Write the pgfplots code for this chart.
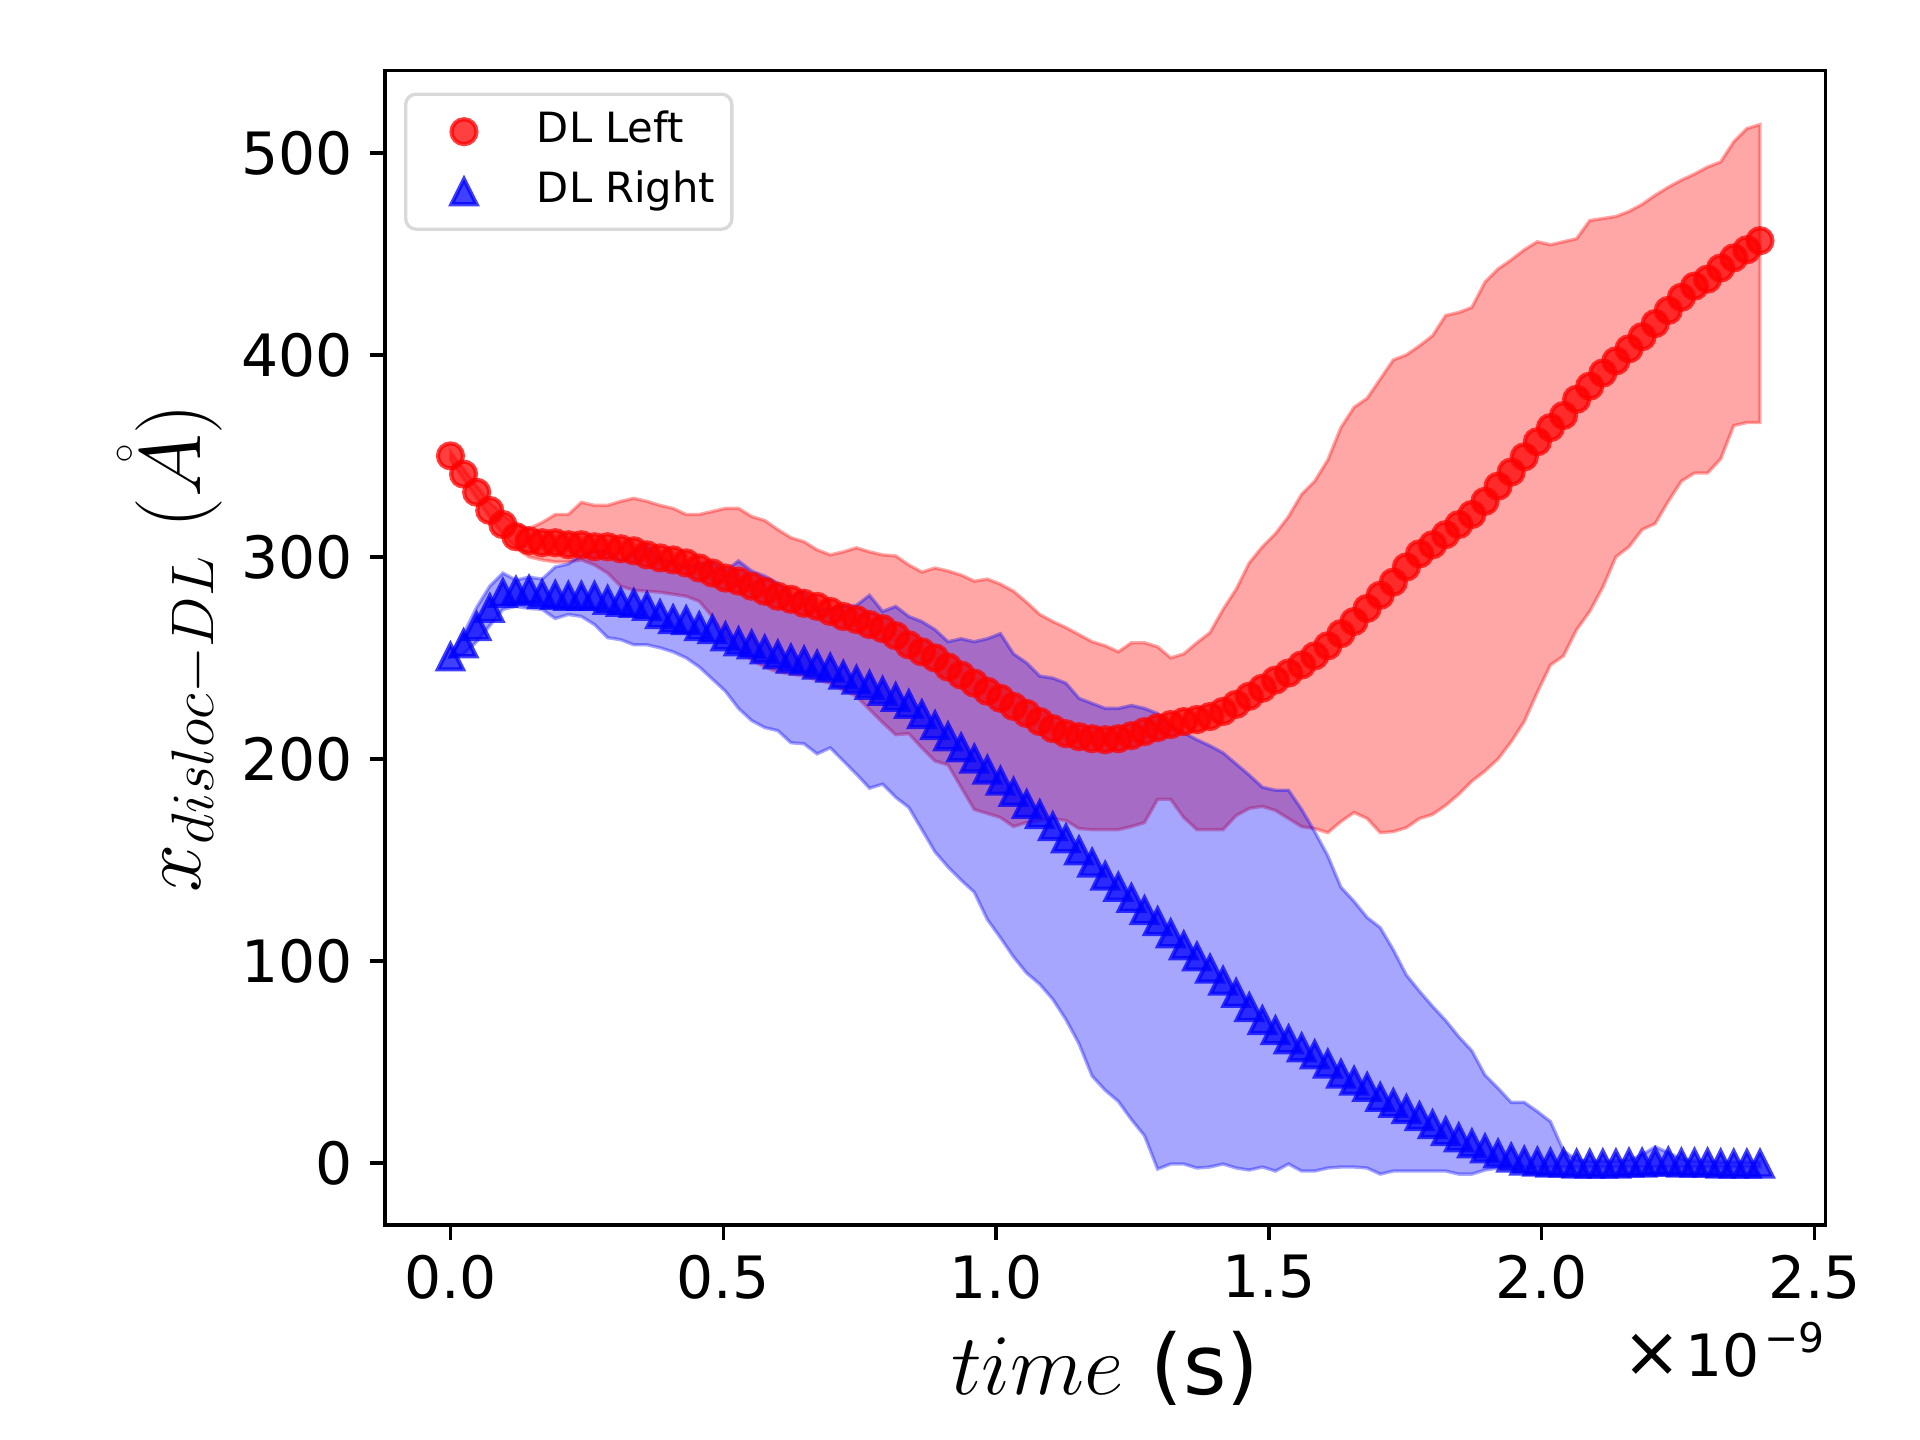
\documentclass[border=0pt]{standalone}
\usepackage{fontspec}
\setmainfont{DejaVu Sans}
\usepackage{pgfplots}
\usepackage{pgfplotstable}
\pgfplotsset{compat=1.18}

\pgfdeclareplotmark{mpltri}{%
  \pgfpathmoveto{\pgfqpoint{0pt}{\pgfplotmarksize}}%
  \pgfpathlineto{\pgfqpoint{-\pgfplotmarksize}{-\pgfplotmarksize}}%
  \pgfpathlineto{\pgfqpoint{\pgfplotmarksize}{-\pgfplotmarksize}}%
  \pgfpathclose
  \pgfusepathqfillstroke
}

\pgfplotsset{
  mkleg/.style={legend image code/.code={\path[draw=none,fill=none] (-10pt,-4pt) rectangle (17.5pt,4pt); \draw[sharp corners,##1] plot coordinates {(0pt,0pt)};}},
}

% mean of DL Left
\pgfplotstableread{
x y
0 350
0.024 341
0.048 332
0.072 323
0.096 316
0.12 310
0.144 308
0.168 307
0.192 307
0.216 306
0.24 306
0.264 305
0.288 305
0.312 304
0.336 303
0.36 301
0.384 299.5
0.408 298.5
0.432 297
0.456 294.5
0.48 292
0.504 289.5
0.528 288
0.552 285.5
0.576 283
0.6 280.5
0.624 279
0.648 277
0.672 275.5
0.696 273
0.72 270.5
0.744 269
0.768 266.5
0.792 264.5
0.816 261
0.84 256.5
0.864 253
0.888 250
0.912 245.5
0.936 241.5
0.96 237.5
0.984 233.5
1.008 230
1.032 226
1.056 222.5
1.08 218.5
1.104 215
1.128 212.5
1.152 211
1.176 210
1.2 209.5
1.224 210
1.248 211.5
1.272 213.5
1.296 215.5
1.32 217
1.344 218.5
1.368 219.5
1.392 221
1.416 223.5
1.44 227
1.464 231
1.488 235
1.512 239
1.536 242.5
1.56 246.5
1.584 251
1.608 256
1.632 262
1.656 268
1.68 274.5
1.704 281
1.728 287.5
1.752 295
1.776 301.5
1.8 306
1.824 311
1.848 316
1.872 321
1.896 327.5
1.92 335
1.944 342
1.968 349.5
1.992 357
2.016 364
2.04 370
2.064 378
2.088 384.5
2.112 391
2.136 397
2.16 403
2.184 409
2.208 415.5
2.232 422
2.256 428.5
2.28 434
2.304 437.5
2.328 443
2.352 448
2.376 452
2.4 456.5
}\redmean

% band of DL Left: upper edge forward, lower edge backward
\pgfplotstableread{
x y
0 352
0.024 343.5
0.048 335
0.072 327
0.096 321
0.12 316
0.144 314
0.168 317
0.192 321
0.216 321
0.24 327
0.264 325.5
0.288 325.5
0.312 327.5
0.336 329
0.36 327.5
0.384 325.5
0.408 324
0.432 321
0.456 321
0.48 322.5
0.504 324
0.528 324
0.552 320
0.576 318
0.6 313.5
0.624 309.5
0.648 307.5
0.672 303.5
0.696 301
0.72 302.5
0.744 304.5
0.768 302.5
0.792 301
0.816 300.5
0.84 296
0.864 292.5
0.888 294.5
0.912 293
0.936 291
0.96 288
0.984 289
1.008 286.5
1.032 283
1.056 277.5
1.08 271.5
1.104 268
1.128 265
1.152 261.5
1.176 258
1.2 256
1.224 253
1.248 257.5
1.272 257.5
1.296 255.5
1.32 250
1.344 252
1.368 257.5
1.392 262.5
1.416 274
1.44 284
1.464 297
1.488 305
1.512 311.5
1.536 320
1.56 331
1.584 337.5
1.608 348
1.632 364
1.656 374
1.68 378.5
1.704 388
1.728 397.5
1.752 400
1.776 404.5
1.8 409.5
1.824 419.5
1.848 421
1.872 423.5
1.896 436
1.92 442.5
1.944 447
1.968 452
1.992 456
2.016 454.5
2.04 456
2.064 457.5
2.088 466.5
2.112 467.5
2.136 468.5
2.16 471
2.184 474.5
2.208 479
2.232 483
2.256 486.5
2.28 489.5
2.304 493
2.328 495.5
2.352 505.5
2.376 512
2.4 514
2.4 366.5
2.376 366.5
2.352 365
2.328 348.5
2.304 341.5
2.28 341.5
2.256 337.5
2.232 327.5
2.208 316.5
2.184 313.5
2.16 305
2.136 300
2.112 285
2.088 273
2.064 264
2.04 251
2.016 246.5
1.992 233
1.968 218.5
1.944 208.5
1.92 200
1.896 194
1.872 189
1.848 182.5
1.824 177
1.8 172.5
1.776 170.5
1.752 166
1.728 164
1.704 163.5
1.68 170.5
1.656 173.5
1.632 169
1.608 163.5
1.584 165.5
1.56 166.5
1.536 170.5
1.512 174.5
1.488 176.5
1.464 175.5
1.44 172
1.416 165
1.392 165
1.368 165
1.344 171
1.32 180
1.296 180
1.272 168.5
1.248 166.5
1.224 165
1.2 165
1.176 165
1.152 165.5
1.128 169.5
1.104 170.5
1.08 169.5
1.056 168.5
1.032 166.5
1.008 171
0.984 173
0.96 175
0.936 186
0.912 197
0.888 199
0.864 205.5
0.84 212.5
0.816 212
0.792 218
0.768 224.5
0.744 231
0.72 234
0.696 237.5
0.672 239
0.648 241
0.624 242
0.6 243
0.576 245.5
0.552 249
0.528 254
0.504 260.5
0.48 270.5
0.456 278
0.432 280.5
0.408 281.5
0.384 282.5
0.36 283
0.336 283.5
0.312 285.5
0.288 292
0.264 296
0.24 298.5
0.216 297.5
0.192 297.5
0.168 298.5
0.144 300
0.12 304.5
0.096 311
0.072 319.5
0.048 329
0.024 338.5
0 348
}\redband

% mean of DL Right
\pgfplotstableread{
x y
0 250.5
0.024 257
0.048 265.5
0.072 274.5
0.096 282
0.12 283
0.144 283.5
0.168 281.5
0.192 281
0.216 280.5
0.24 280.5
0.264 280.5
0.288 278.5
0.312 277.5
0.336 277
0.36 275.5
0.384 271.5
0.408 269
0.432 268.5
0.456 265.5
0.48 264
0.504 260.5
0.528 258
0.552 256.5
0.576 254
0.6 251.5
0.624 249.5
0.648 248.5
0.672 246.5
0.696 245
0.72 241.5
0.744 239
0.768 236.5
0.792 233.5
0.816 230.5
0.84 227
0.864 222
0.888 216.5
0.912 211
0.936 205.5
0.96 200
0.984 194.5
1.008 189
1.032 183.5
1.056 177.5
1.08 172.5
1.104 166.5
1.128 160.5
1.152 154.5
1.176 148.5
1.2 142
1.224 136.5
1.248 131
1.272 125
1.296 119.5
1.32 113.5
1.344 107.5
1.368 102
1.392 96
1.416 90
1.44 84
1.464 77
1.488 70.5
1.512 65.5
1.536 61
1.56 57
1.584 53.5
1.608 49
1.632 44
1.656 40.5
1.68 37.5
1.704 32.5
1.728 29.5
1.752 26.5
1.776 23
1.8 19
1.824 15.5
1.848 12.5
1.872 9.5
1.896 7
1.92 4.5
1.944 2.5
1.968 1
1.992 0.5
2.016 0
2.04 0
2.064 -0.5
2.088 -0.5
2.112 -0.5
2.136 -0.5
2.16 0
2.184 0
2.208 0.5
2.232 0.5
2.256 0
2.28 0
2.304 0
2.328 -0.5
2.352 -0.5
2.376 -0.5
2.4 -0.5
}\bluemean

% band of DL Right: upper edge forward, lower edge backward
\pgfplotstableread{
x y
0 250.5
0.024 262
0.048 275
0.072 285.5
0.096 292
0.12 288.5
0.144 290
0.168 289
0.192 295
0.216 296.5
0.24 301
0.264 303
0.288 303
0.312 298.5
0.336 302.5
0.36 306
0.384 298.5
0.408 298
0.432 295
0.456 297
0.48 297.5
0.504 293
0.528 298
0.552 293
0.576 290.5
0.6 287
0.624 280.5
0.648 283
0.672 273.5
0.696 274.5
0.72 275.5
0.744 276
0.768 281
0.792 273
0.816 275.5
0.84 270.5
0.864 268
0.888 264
0.912 258
0.936 259.5
0.96 258
0.984 259.5
1.008 262
1.032 252
1.056 247.5
1.08 241
1.104 240
1.128 237.5
1.152 230
1.176 227.5
1.2 225
1.224 225
1.248 226.5
1.272 225
1.296 222.5
1.32 216.5
1.344 213
1.368 209.5
1.392 206.5
1.416 203
1.44 197.5
1.464 192
1.488 186
1.512 184.5
1.536 184.5
1.56 175
1.584 164
1.608 152
1.632 136.5
1.656 129.5
1.68 121.5
1.704 116.5
1.728 105.5
1.752 93
1.776 85
1.8 77.5
1.824 70.5
1.848 62.5
1.872 55.5
1.896 43.5
1.92 37
1.944 30
1.968 30
1.992 25.5
2.016 20.5
2.04 6
2.064 1.5
2.088 1
2.112 1
2.136 1
2.16 1.5
2.184 4
2.208 8
2.232 5
2.256 2
2.28 1
2.304 1
2.328 0.5
2.352 0.5
2.376 0.5
2.4 0.5
2.4 -2
2.376 -2
2.352 -2
2.328 -2
2.304 -2
2.28 -2
2.256 -2
2.232 -2
2.208 -2
2.184 -2
2.16 -2
2.136 -2
2.112 -2
2.088 -2
2.064 -2
2.04 -2
2.016 -2
1.992 -2
1.968 -2
1.944 -2
1.92 -2.5
1.896 -3.5
1.872 -5.5
1.848 -5.5
1.824 -4
1.8 -4
1.776 -4
1.752 -4
1.728 -4
1.704 -5.5
1.68 -2.5
1.656 -2
1.632 -2
1.608 -2.5
1.584 -4
1.56 -4
1.536 -0.5
1.512 -4
1.488 -2
1.464 -3.5
1.44 -2.5
1.416 -0.5
1.392 -2
1.368 -2.5
1.344 -0.5
1.32 -0.5
1.296 -3
1.272 13.5
1.248 21.5
1.224 30.5
1.2 36
1.176 43
1.152 59
1.128 71
1.104 81
1.08 88.5
1.056 94
1.032 102
1.008 111.5
0.984 120.5
0.96 134
0.936 140
0.912 146.5
0.888 154
0.864 165
0.84 176
0.816 181
0.792 187.5
0.768 185.5
0.744 192.5
0.72 199
0.696 205.5
0.672 202.5
0.648 207.5
0.624 208
0.6 214
0.576 215.5
0.552 219
0.528 225
0.504 233.5
0.48 239.5
0.456 245.5
0.432 250
0.408 253
0.384 255
0.36 256.5
0.336 256.5
0.312 259
0.288 260
0.264 266.5
0.24 270.5
0.216 271.5
0.192 269.5
0.168 274
0.144 274.5
0.12 275.5
0.096 274
0.072 266
0.048 258
0.024 252
0 250.5
}\blueband

\begin{document}
\begin{tikzpicture}
\begin{axis}[
  name=ax,
  scale only axis,
  width=345.7pt, height=277pt,
  xmin=-0.12, xmax=2.52,
  ymin=-30.7, ymax=540.6,
  axis line style={line width=0.8pt},
  tick pos=left,
  tick align=outside,
  major tick length=3.5pt,
  every tick/.style={black, line width=0.8pt},
  xtick={0,0.5,1,1.5,2,2.5},
  ytick={0,100,200,300,400,500},
  scaled ticks=false,
  /pgf/number format/assume math mode=true,
  ticklabel style={font=\fontsize{14}{16.8}\selectfont, inner sep=0pt},
  xticklabel style={/pgf/number format/fixed, /pgf/number format/fixed zerofill, /pgf/number format/precision=1, yshift=-3.5pt},
  yticklabel style={xshift=-4pt},
  xlabel={$time$ (s)},
  ylabel={$x_{disloc-DL}$ $(\mathring{A})$},
  xlabel style={font=\fontsize{20}{24}\selectfont, at={(axis description cs:0.5,0)}, anchor=base, yshift=-40.6pt, inner sep=0pt},
  ylabel style={font=\fontsize{20}{24}\selectfont, at={(axis description cs:-0.1284,0.5)}, anchor=base, inner sep=0pt},
  legend style={
    at={(axis description cs:0.0132,0.9812)}, anchor=north west,
    draw=black!15, line width=0.8pt, rounded corners=2.5pt, fill=white,
    font=\fontsize{10}{12}\selectfont,
    inner xsep=4pt, inner ysep=4pt, row sep=4.4pt,
    nodes={inner sep=0pt, text height=7.6pt, text depth=2.4pt},
  },
  legend cell align=left,
]
\addplot[forget plot, fill=red, fill opacity=0.35, draw=red, draw opacity=0.35, line width=0.8pt] table {\redband} -- cycle;
\addplot[only marks, mark=*, mark size=3pt,
  mark options={fill=red, draw=red, line width=1pt, opacity=0.75}, mkleg]
  table {\redmean};
\addlegendentry{DL Left}
\addplot[forget plot, fill=blue, fill opacity=0.35, draw=blue, draw opacity=0.35, line width=0.8pt] table {\blueband} -- cycle;
\addplot[only marks, mark=mpltri, mark size=3pt,
  mark options={fill=blue, draw=blue, line width=1pt, opacity=0.75}, mkleg]
  table {\bluemean};
\addlegendentry{DL Right}
\end{axis}
\node[anchor=base east, inner sep=0pt, font=\fontsize{14}{16.8}\selectfont] at ([yshift=-36.4pt]ax.south east) {{\fontsize{17}{18}\selectfont ×}\hspace{0.8pt}10\hspace{1.2pt}\raisebox{5.9pt}{\fontsize{9.8}{11}\selectfont −9}};
\pgfresetboundingbox
\path ([xshift=-92.4pt,yshift=-51.6pt]ax.south west) rectangle ++(460.8pt,345.6pt);
\end{tikzpicture}
\end{document}
